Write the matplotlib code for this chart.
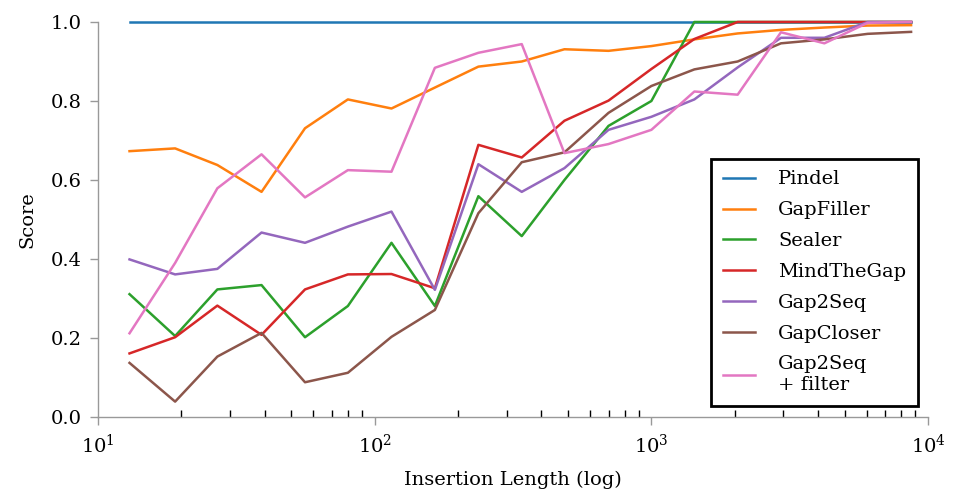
import numpy as np
import matplotlib
matplotlib.use('Agg')
import matplotlib.pyplot as plt

plt.rcParams['font.family'] = ['DejaVu Serif']
plt.rcParams['mathtext.fontset'] = 'dejavuserif'

# insertion lengths (log scale)
lengths = [13, 19, 27, 39, 56, 80, 115, 165, 237, 340, 485, 700, 1000,
           1430, 2050, 2940, 4220, 6050, 8680]

pindel = [1.0] * 19
gapfiller = [0.673, 0.680, 0.638, 0.570, 0.731, 0.804, 0.781, 0.834, 0.887, 0.900,
             0.931, 0.927, 0.939, 0.956, 0.971, 0.980, 0.986, 0.991, 0.992]
sealer = [0.311, 0.205, 0.323, 0.334, 0.202, 0.281, 0.441, 0.281, 0.559, 0.458,
          0.600, 0.737, 0.800, 1.0, 1.0, 1.0, 1.0, 1.0, 1.0]
mindthegap = [0.161, 0.202, 0.282, 0.208, 0.323, 0.361, 0.362, 0.326, 0.689, 0.657,
              0.750, 0.801, 0.881, 0.957, 1.0, 1.0, 1.0, 1.0, 1.0]
gap2seq = [0.399, 0.361, 0.375, 0.467, 0.441, 0.482, 0.520, 0.322, 0.640, 0.570,
           0.630, 0.727, 0.760, 0.804, 0.885, 0.960, 0.960, 1.0, 1.0]
gapcloser = [0.137, 0.039, 0.153, 0.213, 0.088, 0.112, 0.203, 0.271, 0.516, 0.645,
             0.670, 0.770, 0.838, 0.880, 0.900, 0.946, 0.956, 0.970, 0.975]
gap2seq_filter = [0.212, 0.390, 0.579, 0.665, 0.556, 0.625, 0.621, 0.884, 0.922, 0.944,
                  0.668, 0.691, 0.727, 0.824, 0.816, 0.974, 0.946, 0.998, 1.0]

series = [('Pindel', pindel), ('GapFiller', gapfiller), ('Sealer', sealer),
          ('MindTheGap', mindthegap), ('Gap2Seq', gap2seq), ('GapCloser', gapcloser),
          ('Gap2Seq\n+ filter', gap2seq_filter)]

fig = plt.figure(figsize=(9.56, 4.92), dpi=100)
ax = fig.add_axes([0.1025, 0.1524, 0.8683, 0.8029])

for name, vals in series:
    ax.plot(lengths, vals, lw=1.8, label=name, clip_on=False)

ax.set_xscale('log')
ax.set_xlim(10, 1e4)
ax.set_ylim(0, 1)
ax.set_yticks([0, 0.2, 0.4, 0.6, 0.8, 1.0])

for s in ['top', 'right']:
    ax.spines[s].set_visible(False)
for s in ['left', 'bottom']:
    ax.spines[s].set_color('#999999')
    ax.spines[s].set_linewidth(1)

ax.tick_params(which='major', direction='out', length=6, width=1, color='#999999',
               labelsize=14, pad=6)
ax.tick_params(axis='x', which='minor', direction='in', length=5, width=1, color='black')

ax.set_xlabel('Insertion Length (log)', fontsize=14, labelpad=10)
ax.set_ylabel('Score', fontsize=14, labelpad=10)

leg = ax.legend(loc='lower right', bbox_to_anchor=(0.988, 0.028), borderaxespad=0,
                fontsize=14, fancybox=False, framealpha=1, edgecolor='black',
                handlelength=1.65, handletextpad=1.2, labelspacing=0.66,
                borderpad=0.6)
leg.get_frame().set_linewidth(2)

plt.savefig('out.png', dpi=100)
